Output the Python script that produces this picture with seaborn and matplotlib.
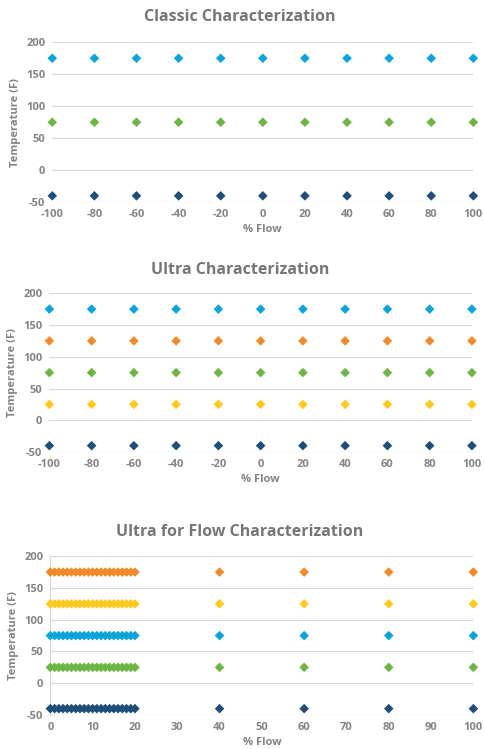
import pandas as pd
import seaborn as sns
import matplotlib.pyplot as plt

# classic / ultra share the same flow set points
FLOW_SWEEP = [-100, -80, -60, -40, -20, 0, 20, 40, 60, 80, 100]
CLASSIC_TEMPS = [-40, 75, 175]
ULTRA_TEMPS = [-40, 25, 75, 125, 175]

# flow characterization: fine steps from 0 to 20, then coarse
FLOW_FINE = [0, 1, 2, 3, 4, 5, 6, 7, 8, 9, 10, 11, 12, 13, 14, 15, 16, 17, 18, 19, 20,
             40, 60, 80, 100]
FLOW_TEMPS = [-40, 25, 75, 125, 175]
FLOW_TICKS = [0, 10, 20, 30, 40, 50, 60, 70, 80, 90, 100]

DARK_BLUE = "#1F4E79"
LIGHT_BLUE = "#0AA4DA"
GREEN = "#6DB545"
ORANGE = "#F08A2C"
YELLOW = "#FFC91F"

CLASSIC_COLORS = {-40: DARK_BLUE, 75: GREEN, 175: LIGHT_BLUE}
ULTRA_COLORS = {-40: DARK_BLUE, 25: YELLOW, 75: GREEN, 125: ORANGE, 175: LIGHT_BLUE}
FLOW_COLORS = {-40: DARK_BLUE, 25: GREEN, 75: LIGHT_BLUE, 125: YELLOW, 175: ORANGE}

TEXT = "#848484"
GRID = "#D9D9D9"


def long_form(flows, temps):
    rows = [(f, t) for t in temps for f in flows]
    return pd.DataFrame(rows, columns=["Flow", "Temp"])


def draw(ax, df, colors, title, title_y, xlim, xticks, left_axis=False):
    sns.scatterplot(data=df, x="Flow", y="Temp", hue="Temp", palette=colors,
                    marker="D", s=24, linewidth=0, legend=False, ax=ax, zorder=3)
    ax.set_xlim(*xlim)
    ax.set_ylim(-50, 200)
    ax.set_xticks(xticks)
    ax.set_yticks([-50, 0, 50, 100, 150, 200])
    ax.grid(axis="y", color=GRID, linewidth=0.9)
    ax.grid(axis="x", visible=False)
    for side in ["top", "right", "left", "bottom"]:
        ax.spines[side].set_visible(False)
    if left_axis:
        ax.spines["left"].set_visible(True)
        ax.spines["left"].set_color(GRID)
        ax.spines["left"].set_linewidth(0.9)
    ax.tick_params(length=0, colors=TEXT, labelsize=8, pad=5)
    for lab in ax.get_xticklabels() + ax.get_yticklabels():
        lab.set_fontweight("bold")
    ax.set_xlabel("% Flow", color=TEXT, fontsize=8, fontweight="bold", labelpad=3)
    ax.set_ylabel("Temperature (F)", color=TEXT, fontsize=8, fontweight="bold", labelpad=4)
    fig.text(0.496, title_y, title, color="#767676", fontsize=11.5, fontweight="bold",
             ha="center", va="center")
    for coll in ax.collections:
        coll.set_clip_on(False)


sns.set_style("white")
plt.rcParams["font.family"] = ["Open Sans", "DejaVu Sans"]
plt.rcParams["axes.unicode_minus"] = False

fig = plt.figure(figsize=(4.84, 7.49), dpi=100)
ax1 = fig.add_axes([0.108, 0.730, 0.870, 0.2136])
ax2 = fig.add_axes([0.102, 0.3965, 0.873, 0.212])
ax3 = fig.add_axes([0.104, 0.0454, 0.874, 0.212])

draw(ax1, long_form(FLOW_SWEEP, CLASSIC_TEMPS), CLASSIC_COLORS,
     "Classic Characterization", 1 - 17 / 749, (-100, 100), FLOW_SWEEP)
draw(ax2, long_form(FLOW_SWEEP, ULTRA_TEMPS), ULTRA_COLORS,
     "Ultra Characterization", 1 - 270 / 749, (-100, 100), FLOW_SWEEP)
draw(ax3, long_form(FLOW_FINE, FLOW_TEMPS), FLOW_COLORS,
     "Ultra for Flow Characterization", 1 - 532 / 749, (0, 100), FLOW_TICKS,
     left_axis=True)

fig.savefig("out.png", dpi=100)
